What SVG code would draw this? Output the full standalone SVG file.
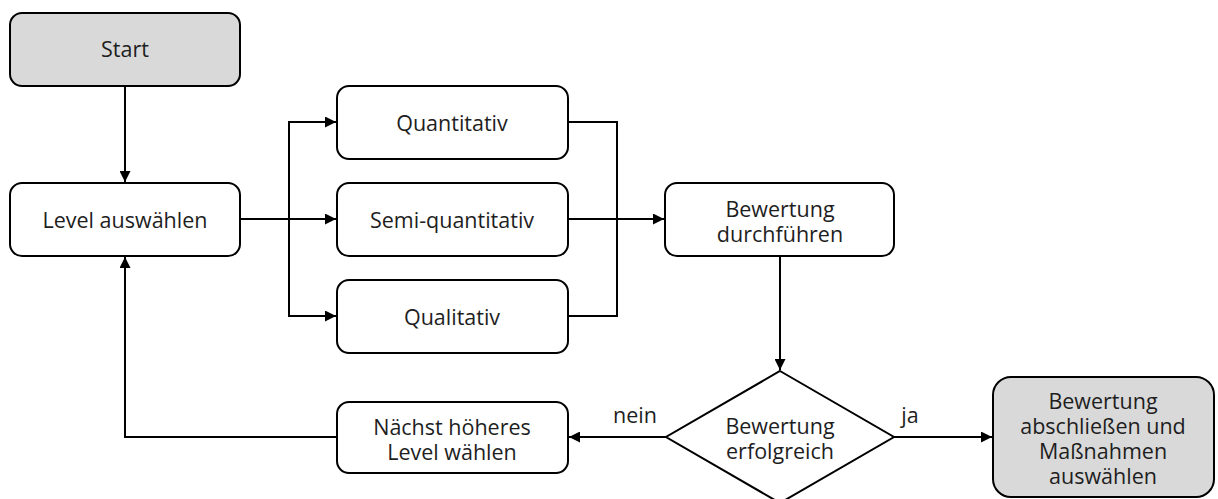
<svg xmlns="http://www.w3.org/2000/svg" width="1218" height="499" viewBox="0 0 1218 499">
<style>
.b{fill:#fff;stroke:#000;stroke-width:2}
.g{fill:#d9d9d9;stroke:#000;stroke-width:2}
.t{font-family:"Open Sans","Noto Sans",sans-serif;font-size:21.5px;fill:#1e1e1e;text-anchor:middle}
.c{fill:none;stroke:#000;stroke-width:2}
</style>
<defs>
<marker id="a" viewBox="0 0 10 10" refX="10" refY="5" markerWidth="11" markerHeight="11" markerUnits="userSpaceOnUse" orient="auto">
<path d="M0,0 L10,5 L0,10 Z" fill="#000"/>
</marker>
</defs>
<g id="connectors">
<path class="c" d="M125,86 V182" marker-end="url(#a)"/>
<path class="c" d="M240,219 H336" marker-end="url(#a)"/>
<path class="c" d="M289,219 V122 H336" marker-end="url(#a)"/>
<path class="c" d="M289,219 V316 H336" marker-end="url(#a)"/>
<path class="c" d="M568,122 H617 V316 H568"/>
<path class="c" d="M568,219 H664" marker-end="url(#a)"/>
<path class="c" d="M780,256 V370" marker-end="url(#a)"/>
<path class="c" d="M666,437 H569" marker-end="url(#a)"/>
<path class="c" d="M894,437 H992" marker-end="url(#a)"/>
<path class="c" d="M337,437 H125 V257" marker-end="url(#a)"/>
<text class="t" x="635" y="423">nein</text>
<text class="t" x="910" y="423">ja</text>
</g>
<g id="start"><rect class="g" x="10" y="13" width="230" height="73" rx="12"/><text class="t" x="125" y="57">Start</text></g>
<g id="level"><rect class="b" x="10" y="183" width="230" height="73" rx="12"/><text class="t" x="125" y="228">Level auswählen</text></g>
<g id="quant"><rect class="b" x="337" y="86" width="231" height="73" rx="12"/><text class="t" x="452" y="131">Quantitativ</text></g>
<g id="semi"><rect class="b" x="337" y="183" width="231" height="73" rx="12"/><text class="t" x="452" y="228">Semi-quantitativ</text></g>
<g id="qual"><rect class="b" x="337" y="280" width="231" height="73" rx="12"/><text class="t" x="452" y="325">Qualitativ</text></g>
<g id="bewertung"><rect class="b" x="665" y="183" width="229" height="73" rx="12"/><text class="t" x="780" y="217">Bewertung</text><text class="t" x="780" y="242">durchführen</text></g>
<g id="decision"><path class="b" d="M780,371 L894,437 L780,503 L666,437 Z"/><text class="t" x="780" y="434">Bewertung</text><text class="t" x="780" y="459">erfolgreich</text></g>
<g id="next"><rect class="b" x="337" y="402" width="231" height="71" rx="12"/><text class="t" x="452" y="435">Nächst höheres</text><text class="t" x="452" y="460">Level wählen</text></g>
<g id="end"><rect class="g" x="993" y="377" width="221" height="120" rx="18"/><text class="t" x="1103" y="409">Bewertung</text><text class="t" x="1103" y="434">abschließen und</text><text class="t" x="1103" y="459">Maßnahmen</text><text class="t" x="1103" y="484">auswählen</text></g>
</svg>
